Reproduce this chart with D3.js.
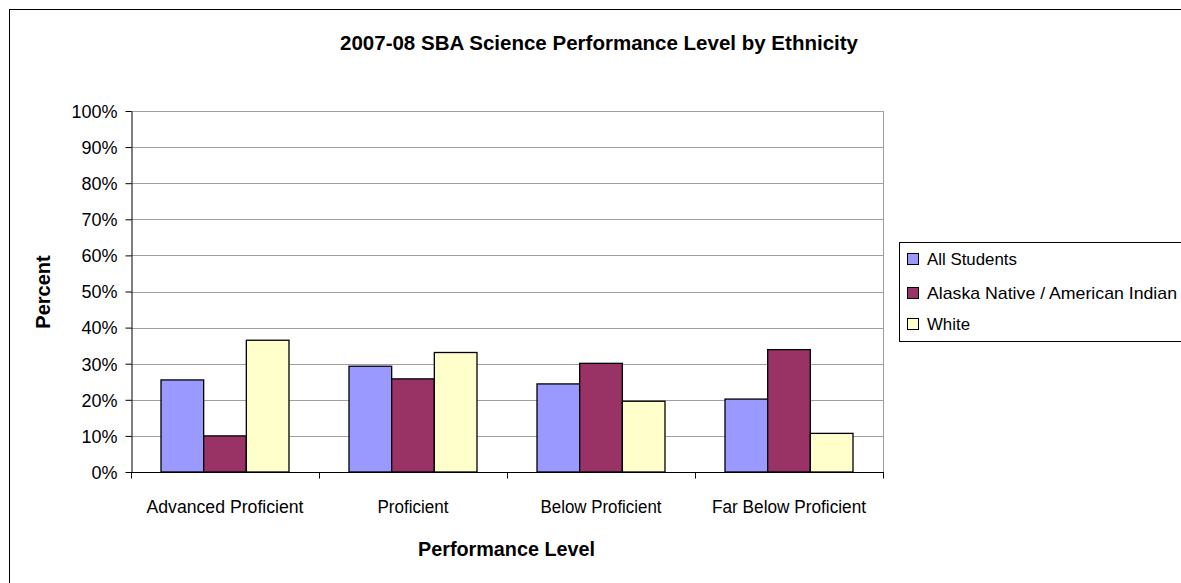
<!DOCTYPE html>
<html><head><meta charset="utf-8">
<script src="https://cdn.jsdelivr.net/npm/d3@7"></script>
<style>body{margin:0;background:#fff}svg{display:block}text{font-family:"Liberation Sans",Arial,sans-serif;fill:#000}</style>
</head><body><svg id="c" width="1181" height="583"></svg>
<script>
const categories = ["Advanced Proficient","Proficient","Below Proficient","Far Below Proficient"];
const seriesNames = ["All Students","Alaska Native / American Indian","White"];
const allStudents = [25.5, 29.3, 24.4, 20.2];
const alaskaNative = [10.0, 25.8, 30.1, 33.9];
const white = [36.5, 33.1, 19.6, 10.7];
const colors = ["#9999FF","#993366","#FFFFCC"];
const yTicks = [0,10,20,30,40,50,60,70,80,90,100];

const series = [allStudents, alaskaNative, white];
const svg = d3.select("#c");
const L = 131, R = 883, T = 111, B = 472;

svg.append("rect").attr("x",9.5).attr("y",9.5).attr("width",1200).attr("height",600)
  .attr("fill","#fff").attr("stroke","#000").attr("stroke-width",1);

const x = d3.scaleBand().domain(categories).range([L,R]).paddingInner(0).paddingOuter(0);
const inner = d3.scaleBand().domain(seriesNames).range([30,158]);
const y = d3.scaleLinear().domain([0,100]).range([B,T]);

// gridlines
svg.append("g").selectAll("line").data(yTicks.filter(d=>d>0)).join("line")
  .attr("x1",L).attr("x2",R).attr("y1",d=>Math.round(y(d))+0.5).attr("y2",d=>Math.round(y(d))+0.5)
  .attr("stroke","#a0a0a0");
svg.append("line").attr("x1",R+0.5).attr("x2",R+0.5).attr("y1",T).attr("y2",B).attr("stroke","#a0a0a0");

// bars
seriesNames.forEach((s,i)=>{
  svg.append("g").selectAll("rect").data(categories).join("rect")
    .attr("x",c=>x(c)+inner(s)).attr("width",inner.bandwidth())
    .attr("y",(c,j)=>y(series[i][j])).attr("height",(c,j)=>B-y(series[i][j]))
    .attr("fill",colors[i]).attr("stroke","#000").attr("stroke-width",1.3);
});

// y axis
const ya = svg.append("g").attr("transform",`translate(${L+0.5},0)`)
  .call(d3.axisLeft(y).tickValues(yTicks).tickFormat(d=>d+"%").tickSize(6).tickSizeOuter(0));
ya.select(".domain").attr("stroke","#000");
ya.selectAll(".tick line").attr("stroke","#000");
ya.selectAll("text").attr("font-size",18).attr("x",-14).attr("dy","0.35em").style("font-family",null);

// x axis
const xa = svg.append("g").attr("transform",`translate(0,${B+0.5})`);
xa.append("line").attr("x1",L).attr("x2",R+1).attr("stroke","#000");
xa.selectAll(".t").data(categories.concat([null])).join("line").attr("class","t")
  .attr("x1",(c,i)=>Math.round(L+i*x.bandwidth())+0.5).attr("x2",(c,i)=>Math.round(L+i*x.bandwidth())+0.5)
  .attr("y1",0).attr("y2",6).attr("stroke","#000");
const catW = {"Advanced Proficient":157,"Proficient":71,"Below Proficient":121,"Far Below Proficient":154};
xa.selectAll("text").data(categories).join("text")
  .attr("x",c=>x(c)+x.bandwidth()/2).attr("y",40).attr("text-anchor","middle").attr("font-size",17.5)
  .attr("textLength",c=>catW[c]).attr("lengthAdjust","spacingAndGlyphs").text(c=>c);

// titles
svg.append("text").attr("x",599).attr("y",50).attr("text-anchor","middle").attr("font-size",20).attr("font-weight","bold")
  .attr("textLength",518).attr("lengthAdjust","spacingAndGlyphs")
  .text("2007-08 SBA Science Performance Level by Ethnicity");
svg.append("text").attr("x",506.5).attr("y",556).attr("text-anchor","middle").attr("font-size",20).attr("font-weight","bold")
  .attr("textLength",177).attr("lengthAdjust","spacingAndGlyphs")
  .text("Performance Level");
svg.append("text").attr("transform","translate(50,292) rotate(-90)").attr("text-anchor","middle").attr("font-size",20).attr("font-weight","bold")
  .text("Percent");

// legend
const lg = svg.append("g");
lg.append("rect").attr("x",899.5).attr("y",242.5).attr("width",300).attr("height",99).attr("fill","#fff").attr("stroke","#000");
const rowsY = [259,293,324];
const legW = [90,250,43];
seriesNames.forEach((s,i)=>{
  lg.append("rect").attr("x",907.5).attr("y",rowsY[i]-5.5).attr("width",11).attr("height",11).attr("fill",colors[i]).attr("stroke","#000");
  lg.append("text").attr("x",927).attr("y",rowsY[i]).attr("dy","0.35em").attr("font-size",17)
    .attr("textLength",legW[i]).attr("lengthAdjust","spacingAndGlyphs").text(s);
});
</script></body></html>
